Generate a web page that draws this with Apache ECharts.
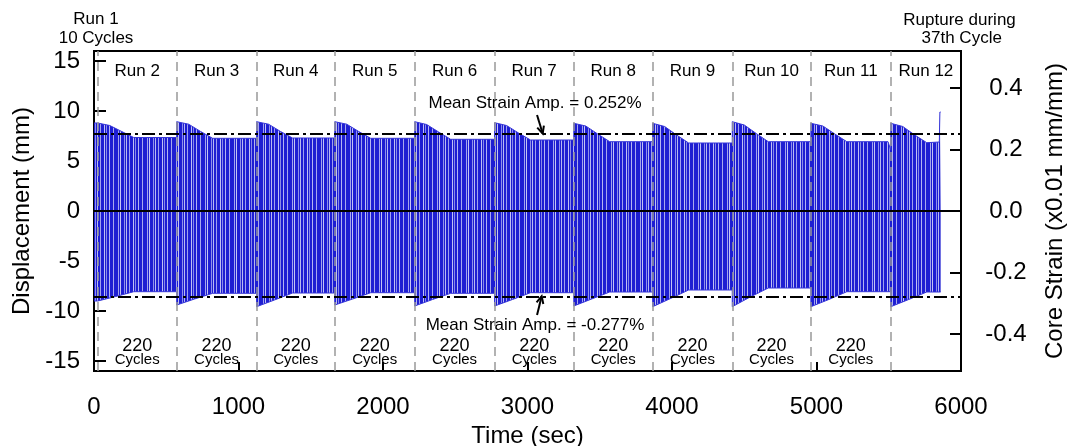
<!DOCTYPE html>
<html><head><meta charset="utf-8">
<script src="https://cdn.jsdelivr.net/npm/echarts@6/dist/echarts.min.js"></script>
<style>html,body{margin:0;padding:0;background:#fff}#c{width:1068px;height:446px}</style>
</head><body><div id="c"></div>
<script>
// ---------- data ----------
const timeTicks = [0, 1000, 2000, 3000, 4000, 5000, 6000];
const dispTicks = [-15, -10, -5, 0, 5, 10, 15];
const strainTicks = [-0.4, -0.2, 0.0, 0.2, 0.4];

// start time (sec) of Run 2 ... Run 12
const runStarts = [26, 572, 1125, 1666, 2219, 2772, 3320, 3866, 4417, 4961, 5514];
const runNames = ['Run 2', 'Run 3', 'Run 4', 'Run 5', 'Run 6', 'Run 7', 'Run 8', 'Run 9', 'Run 10', 'Run 11', 'Run 12'];
const runCycles = ['220', '220', '220', '220', '220', '220', '220', '220', '220', '220']; // Runs 2..11
const meanStrainAmp = [0.252, -0.277];   // core strain (x0.01 mm/mm)
const mmPerStrainUnit = 30.75;           // displacement mm per strain axis unit

// displacement envelope (time sec, mm): peaks of the cyclic signal
const upperEnvelope = [
  [0, 8.8], [26, 8.8],
  [26, 8.8], [109, 8.55], [192, 7.95], [275, 7.35], [572, 7.35],
  [572, 8.93], [655, 8.68], [738, 7.95], [821, 7.27], [1125, 7.27],
  [1125, 8.93], [1208, 8.68], [1291, 7.95], [1374, 7.3], [1666, 7.3],
  [1666, 8.93], [1749, 8.68], [1832, 7.95], [1915, 7.27], [2219, 7.27],
  [2219, 8.93], [2302, 8.65], [2385, 7.9], [2468, 7.17], [2772, 7.17],
  [2772, 8.83], [2855, 8.55], [2938, 7.8], [3021, 7.1], [3320, 7.1],
  [3320, 8.77], [3403, 8.5], [3486, 7.7], [3569, 6.93], [3866, 6.93],
  [3866, 8.77], [3949, 8.45], [4032, 7.6], [4115, 6.8], [4417, 6.8],
  [4417, 8.93], [4500, 8.6], [4583, 7.75], [4666, 6.93], [4961, 6.93],
  [4961, 8.77], [5044, 8.5], [5127, 7.7], [5210, 6.93], [5495, 6.93], [5514, 6.1],
  [5514, 8.77], [5597, 8.45], [5680, 7.6], [5763, 6.83], [5850, 6.9], [5854, 9.9], [5859, 9.9]
];
const lowerEnvelope = [
  [0, -9.0], [26, -9.0],
  [26, -9.07], [150, -8.55], [275, -8.07], [572, -8.07],
  [572, -9.4], [696, -8.8], [821, -8.23], [1125, -8.23],
  [1125, -9.57], [1249, -8.9], [1374, -8.2], [1666, -8.2],
  [1666, -9.4], [1790, -8.8], [1915, -8.17], [2219, -8.17],
  [2219, -9.5], [2343, -8.85], [2468, -8.23], [2772, -8.23],
  [2772, -9.5], [2896, -8.85], [3021, -8.17], [3320, -8.17],
  [3320, -9.5], [3444, -8.8], [3569, -8.1], [3866, -8.1],
  [3866, -9.57], [3990, -8.75], [4115, -7.9], [4417, -7.9],
  [4417, -9.57], [4541, -8.6], [4666, -7.7], [4961, -7.7],
  [4961, -9.57], [5085, -8.85], [5210, -8.07], [5514, -8.07],
  [5514, -9.57], [5638, -8.85], [5763, -8.1], [5859, -8.1]
];

// ---------- chart ----------
const FONT = '"Liberation Sans", Arial, sans-serif';
const X_MAX = 6000, Y_MIN = -16, Y_MAX = 16;

function stripePattern() {
  const W = 29;
  const c = document.createElement('canvas');
  c.width = W; c.height = 8;
  const g = c.getContext('2d');
  g.fillStyle = '#1e1ed2'; g.fillRect(0, 0, W, 8);
  [[2, 1, '#a4a4ee'], [4, 1, '#c4c4f4'], [8, 1, '#9090ea'], [10, 1, '#b8b8f2'],
   [13, 1, '#a0a0ee'], [17, 1, '#c0c0f4'], [19, 1, '#8a8ae8'], [22, 1, '#b4b4f2'], [26, 1, '#a8a8ee']]
    .forEach(([x, w, col]) => { g.fillStyle = col; g.fillRect(x, 0, w, 8); });
  return c;
}
const pattern = { image: stripePattern(), repeat: 'repeat' };

const chart = echarts.init(document.getElementById('c'), null, { renderer: 'canvas' });

const axisLabelFont = { fontFamily: FONT, fontSize: 24, color: '#000' };

chart.setOption({
  animation: false,
  backgroundColor: '#fff',
  grid: { left: 94, right: 107, top: 51, bottom: 75, show: true, borderColor: '#000', borderWidth: 2,
          backgroundColor: 'transparent', containLabel: false, outerBoundsMode: 'none' },
  xAxis: {
    type: 'value', min: 0, max: X_MAX,
    name: 'Time (sec)', nameLocation: 'middle', nameGap: 46,
    nameTextStyle: { fontFamily: FONT, fontSize: 24, color: '#000' },
    axisLine: { onZero: false, lineStyle: { color: '#000', width: 2 } },
    axisTick: { inside: true, length: 9, customValues: timeTicks, lineStyle: { color: '#000', width: 2 } },
    axisLabel: Object.assign({ margin: 24, customValues: timeTicks, formatter: v => String(v) }, axisLabelFont),
    splitLine: { show: false }
  },
  yAxis: [{
    type: 'value', min: Y_MIN, max: Y_MAX, position: 'left',
    name: 'Displacement (mm)', nameLocation: 'middle', nameGap: 51, nameRotate: 90,
    nameTextStyle: { fontFamily: FONT, fontSize: 24, color: '#000' },
    axisLine: { onZero: false, lineStyle: { color: '#000', width: 2 } },
    axisTick: { inside: true, length: 12, customValues: dispTicks, lineStyle: { color: '#000', width: 2 } },
    axisLabel: Object.assign({ margin: 14, customValues: dispTicks, formatter: v => String(v) }, axisLabelFont),
    splitLine: { show: false }
  }, {
    type: 'value', min: Y_MIN / mmPerStrainUnit, max: Y_MAX / mmPerStrainUnit, position: 'right',
    name: 'Core Strain (x0.01 mm/mm)', nameLocation: 'middle', nameGap: 82, nameRotate: 90,
    nameTextStyle: { fontFamily: FONT, fontSize: 24, color: '#000' },
    axisLine: { onZero: false, lineStyle: { color: '#000', width: 2 } },
    axisTick: { inside: true, length: 11, customValues: strainTicks, lineStyle: { color: '#000', width: 2 } },
    axisLabel: Object.assign({ margin: 45, align: 'center', customValues: strainTicks,
      formatter: v => v.toFixed(1) }, axisLabelFont),
    splitLine: { show: false }
  }],
  series: [{
    type: 'line', data: upperEnvelope, showSymbol: false, silent: true, z: 2,
    lineStyle: { width: 1, color: '#3535d8' },
    areaStyle: { color: pattern, opacity: 1 }
  }, {
    type: 'line', data: lowerEnvelope, showSymbol: false, silent: true, z: 2,
    lineStyle: { width: 1, color: '#3535d8' },
    areaStyle: { color: pattern, opacity: 1 }
  }, {
    type: 'line', data: [], z: 5, silent: true,
    markLine: {
      symbol: 'none', silent: true, animation: false, label: { show: false },
      data: runStarts.map(t => ({ xAxis: t, lineStyle: { color: '#999', width: 1.5, type: [9, 6] } }))
        .concat([{ yAxis: 0, lineStyle: { color: '#000', width: 2, type: 'solid' } }])
    }
  }, {
    type: 'line', data: [], yAxisIndex: 1, z: 6, silent: true,
    markLine: {
      symbol: 'none', silent: true, animation: false, label: { show: false },
      lineStyle: { color: '#000', width: 2, type: [13, 4, 3, 4] },
      data: meanStrainAmp.map(v => ({ yAxis: v }))
    }
  }]
});

// ---------- annotations anchored to data coordinates ----------
function px(t, v) { return chart.convertToPixel({ xAxisIndex: 0, yAxisIndex: 0 }, [t, v]); }
function txt(text, t, v, size) {
  const p = px(t, v);
  return { type: 'text', x: p[0], y: p[1], z: 20, silent: true,
    style: { text: text, fill: '#000', font: size + 'px ' + FONT, align: 'center', verticalAlign: 'middle' } };
}
function arrow(t0, v0, t1, v1) {
  const a = px(t0, v0), b = px(t1, v1);
  const ang = Math.atan2(b[1] - a[1], b[0] - a[0]);
  const L = 8, s = 0.45;
  const h1 = [b[0] - L * Math.cos(ang - s), b[1] - L * Math.sin(ang - s)];
  const h2 = [b[0] - L * Math.cos(ang + s), b[1] - L * Math.sin(ang + s)];
  const st = { stroke: '#000', lineWidth: 2 };
  return [
    { type: 'line', z: 20, silent: true, shape: { x1: a[0], y1: a[1], x2: b[0], y2: b[1] }, style: st },
    { type: 'polyline', z: 20, silent: true, shape: { points: [h1, b, h2] }, style: Object.assign({ fill: null }, st) }
  ];
}

const els = [];
const segEnds = runStarts.slice(1).concat([X_MAX]);
runNames.forEach((n, i) => els.push(txt(n, (runStarts[i] + segEnds[i]) / 2, 14, 17)));
runCycles.forEach((c, i) => {
  const mid = (runStarts[i] + segEnds[i]) / 2;
  els.push(txt(c, mid, -13.5, 18));
  els.push(txt('Cycles', mid, -14.9, 15));
});
els.push(txt('Run 1', 14, 19.2, 17));
els.push(txt('10 Cycles', 14, 17.3, 17));
els.push(txt('Rupture during', 5990, 19.1, 17));
els.push(txt('37th Cycle', 6005, 17.3, 17));
els.push(txt('Mean Strain Amp. = ' + meanStrainAmp[0].toFixed(3) + '%', 3052, 10.8, 17));
els.push(txt('Mean Strain Amp. = ' + meanStrainAmp[1].toFixed(3) + '%', 3052, -11.4, 17));
arrow(3066, 9.6, 3105, meanStrainAmp[0] * mmPerStrainUnit).forEach(e => els.push(e));
arrow(3066, -10.4, 3098, meanStrainAmp[1] * mmPerStrainUnit).forEach(e => els.push(e));
chart.setOption({ graphic: { elements: els } });
</script>
</body></html>
